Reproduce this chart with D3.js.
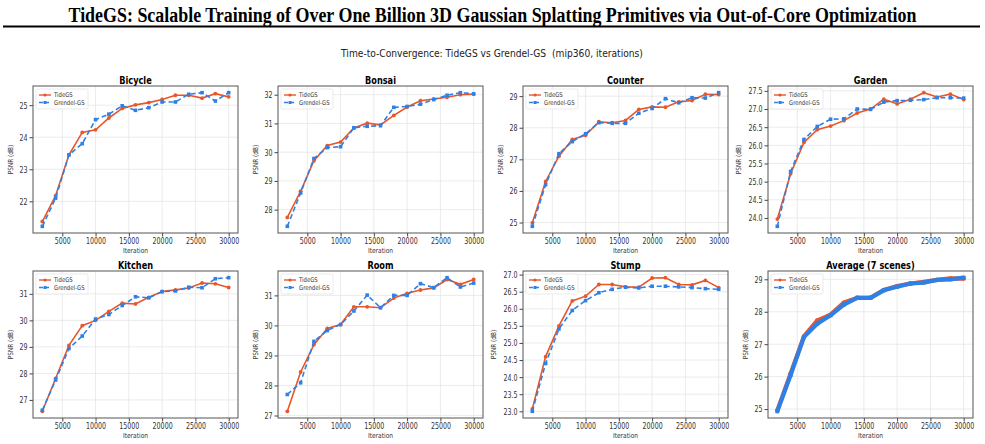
<!DOCTYPE html>
<html lang="en">
<head>
<meta charset="utf-8">
<title>TideGS time-to-convergence</title>
<style>
  body { margin: 0; background: #fff; }
  text { font-family: "DejaVu Sans", sans-serif; white-space: pre; }
  .grid line { stroke: #e6e6e6; stroke-width: 0.8; }
</style>
</head>
<body>
<script src="https://d3js.org/d3.v7.min.js"></script>
<script>
// iterations (shared x values)
var iters = [2000, 4000, 6000, 8000, 10000, 12000, 14000, 16000, 18000, 20000, 22000, 24000, 26000, 28000, 30000];

var scenes = ["Bicycle", "Bonsai", "Counter", "Garden", "Kitchen", "Room", "Stump", "Average (7 scenes)"];

// PSNR values
var tideBicycle   = [21.37, 22.18, 23.45, 24.15, 24.23, 24.60, 24.90, 25.01, 25.08, 25.18, 25.31, 25.31, 25.22, 25.36, 25.26];
var grendBicycle  = [21.22, 22.10, 23.45, 23.80, 24.55, 24.72, 24.98, 24.84, 24.92, 25.10, 25.10, 25.34, 25.39, 25.13, 25.39];
var tideBonsai    = [27.73, 28.64, 29.70, 30.23, 30.35, 30.84, 31.01, 30.95, 31.28, 31.57, 31.79, 31.85, 31.91, 32.00, 32.02];
var grendBonsai   = [27.42, 28.58, 29.78, 30.16, 30.19, 30.85, 30.90, 30.92, 31.56, 31.59, 31.67, 31.83, 31.98, 32.07, 32.03];
var tideCounter   = [24.99, 26.30, 27.10, 27.63, 27.76, 28.19, 28.16, 28.23, 28.58, 28.66, 28.65, 28.82, 28.86, 29.06, 29.05];
var grendCounter  = [24.88, 26.20, 27.18, 27.56, 27.81, 28.16, 28.14, 28.14, 28.46, 28.61, 28.92, 28.79, 28.95, 28.94, 29.11];
var tideGarden    = [23.97, 25.22, 26.08, 26.43, 26.53, 26.68, 26.89, 27.00, 27.27, 27.14, 27.27, 27.45, 27.33, 27.41, 27.26];
var grendGarden   = [23.77, 25.28, 26.16, 26.52, 26.72, 26.73, 27.00, 26.99, 27.19, 27.23, 27.24, 27.26, 27.31, 27.31, 27.30];
var tideKitchen   = [26.57, 27.81, 29.06, 29.80, 30.00, 30.34, 30.65, 30.62, 30.87, 31.09, 31.15, 31.22, 31.41, 31.38, 31.24];
var grendKitchen  = [26.61, 27.75, 28.94, 29.41, 30.05, 30.22, 30.56, 30.89, 30.85, 31.08, 31.11, 31.25, 31.23, 31.57, 31.61];
var tideRoom      = [27.14, 28.45, 29.36, 29.90, 30.03, 30.62, 30.62, 30.59, 30.91, 31.07, 31.18, 31.25, 31.53, 31.37, 31.53];
var grendRoom     = [27.70, 28.09, 29.47, 29.83, 30.03, 30.48, 31.01, 30.59, 31.00, 31.00, 31.39, 31.26, 31.59, 31.28, 31.41];
var tideStump     = [23.07, 24.60, 25.50, 26.23, 26.37, 26.71, 26.71, 26.64, 26.63, 26.90, 26.91, 26.71, 26.70, 26.83, 26.62];
var grendStump    = [23.00, 24.40, 25.41, 25.95, 26.24, 26.47, 26.57, 26.63, 26.61, 26.66, 26.66, 26.64, 26.62, 26.59, 26.57];
var tideAverage   = [24.96, 26.10, 27.24, 27.73, 27.91, 28.28, 28.43, 28.43, 28.67, 28.79, 28.87, 28.92, 28.98, 29.03, 29.02];
var grendAverage  = [24.93, 26.05, 27.22, 27.63, 27.89, 28.22, 28.43, 28.43, 28.66, 28.77, 28.87, 28.90, 28.98, 29.00, 29.05];

var tideSeries  = [tideBicycle, tideBonsai, tideCounter, tideGarden, tideKitchen, tideRoom, tideStump, tideAverage];
var grendSeries = [grendBicycle, grendBonsai, grendCounter, grendGarden, grendKitchen, grendRoom, grendStump, grendAverage];

// tick labels
var xTicks = [5000, 10000, 15000, 20000, 25000, 30000];
var yTicks = [
  [22, 23, 24, 25],
  [28, 29, 30, 31, 32],
  [25, 26, 27, 28, 29],
  [24.0, 24.5, 25.0, 25.5, 26.0, 26.5, 27.0, 27.5],
  [27, 28, 29, 30, 31],
  [27, 28, 29, 30, 31],
  [23.0, 23.5, 24.0, 24.5, 25.0, 25.5, 26.0, 26.5, 27.0],
  [25, 26, 27, 28, 29]
];
var yFormats = ["d", "d", "d", ".1f", "d", "d", ".1f", "d"];

var orange = "#e8562a", blue = "#2f80e6";

var W = 985, H = 444;
var svg = d3.select("body").append("svg").attr("width", W).attr("height", H);

// squeeze text horizontally (the source figure is narrow-looking)
function condense(sel, f) {
  sel.each(function() {
    var L = this.getComputedTextLength();
    d3.select(this).attr("textLength", L * f).attr("lengthAdjust", "spacingAndGlyphs");
  });
}

// page title + rule (tall, narrow serif: smaller font stretched vertically)
svg.append("text")
  .attr("transform", "translate(" + (W / 2) + ",22) scale(1,1.18)")
  .attr("text-anchor", "middle")
  .style("font-family", "'Liberation Serif', 'DejaVu Serif', serif")
  .style("font-weight", "bold")
  .style("font-size", "17px")
  .attr("textLength", 848)
  .attr("lengthAdjust", "spacingAndGlyphs")
  .text("TideGS: Scalable Training of Over One Billion 3D Gaussian Splatting Primitives via Out-of-Core Optimization");

svg.append("line")
  .attr("x1", 3).attr("x2", 980).attr("y1", 26.5).attr("y2", 26.5)
  .attr("stroke", "#000").attr("stroke-width", 2);

var sub = svg.append("text")
  .attr("x", 492).attr("y", 57)
  .attr("text-anchor", "middle")
  .style("font-size", "10.5px")
  .attr("fill", "#222")
  .text("Time-to-Convergence: TideGS vs Grendel-GS  (mip360, iterations)");
condense(sub, 0.87);

var lefts = [33, 278, 523, 768], tops = [86, 271];
var pw = 205, ph = 147;

var x = d3.scaleLinear().domain([600, 31400]).range([0, pw]);

scenes.forEach(function(name, i) {
  var t = tideSeries[i], g = grendSeries[i];
  var isAvg = i === 7;
  var lo = d3.min(t.concat(g)), hi = d3.max(t.concat(g));
  var pad = (hi - lo) * 0.05;
  var y = d3.scaleLinear().domain([lo - pad, hi + pad]).range([ph, 0]);

  var p = svg.append("g")
    .attr("transform", "translate(" + lefts[i % 4] + "," + tops[Math.floor(i / 4)] + ")");

  // grid
  var grid = p.append("g").attr("class", "grid");
  grid.selectAll(".gx").data(xTicks).enter().append("line")
    .attr("x1", d => x(d)).attr("x2", d => x(d)).attr("y1", 0).attr("y2", ph);
  grid.selectAll(".gy").data(yTicks[i]).enter().append("line")
    .attr("y1", d => y(d)).attr("y2", d => y(d)).attr("x1", 0).attr("x2", pw);

  // axes
  var xa = p.append("g").attr("transform", "translate(0," + ph + ")")
    .call(d3.axisBottom(x).tickValues(xTicks).tickFormat(d3.format("d")).tickSize(3.5).tickPadding(1.5));
  var ya = p.append("g")
    .call(d3.axisLeft(y).tickValues(yTicks[i]).tickFormat(d3.format(yFormats[i])).tickSize(3.5).tickPadding(2));
  [xa, ya].forEach(function(a) {
    a.select(".domain").remove();
    a.selectAll("line").attr("stroke", "#444");
    a.selectAll("text").style("font-size", "9px").attr("fill", "#333")
      .style("font-family", "'DejaVu Sans', sans-serif");
    condense(a.selectAll("text"), 0.7);
  });

  // lines
  var line = d3.line().x((d, k) => x(iters[k])).y(d => y(d));
  var lw = isAvg ? 4.2 : 1.6;
  p.append("path").datum(t).attr("d", line)
    .style("fill", "none").style("stroke", orange).style("stroke-width", lw);
  p.selectAll(".mt").data(t).enter().append("circle")
    .attr("cx", (d, k) => x(iters[k])).attr("cy", d => y(d))
    .attr("r", isAvg ? 2.2 : 1.9).attr("fill", orange);

  p.append("path").datum(g).attr("d", line)
    .style("fill", "none").style("stroke", blue).style("stroke-width", lw)
    .style("stroke-dasharray", isAvg ? "none" : "5,3");
  var ms = isAvg ? 4 : 3.6;
  p.selectAll(".mg").data(g).enter().append("rect")
    .attr("x", (d, k) => x(iters[k]) - ms / 2).attr("y", d => y(d) - ms / 2)
    .attr("width", ms).attr("height", ms).attr("fill", blue);

  // frame
  p.append("rect").attr("width", pw).attr("height", ph)
    .attr("fill", "none").attr("stroke", "#555").attr("stroke-width", 1);

  // titles and labels
  var ttl = p.append("text").attr("x", pw / 2).attr("y", -2.5)
    .attr("text-anchor", "middle").style("font-size", "10px").style("font-weight", "bold")
    .text(name);
  condense(ttl, 0.82);
  var xl = p.append("text").attr("x", pw / 2).attr("y", ph + 19.5)
    .attr("text-anchor", "middle").style("font-size", "7px").attr("fill", "#333")
    .text("Iteration");
  condense(xl, 0.85);
  var yl = (i === 3 || i === 6) ? -27 : -20;
  var ylab = p.append("text").attr("transform", "translate(" + yl + "," + (ph / 2) + ") rotate(-90)")
    .attr("text-anchor", "middle").style("font-size", "7px").attr("fill", "#333")
    .text("PSNR (dB)");
  condense(ylab, 0.82);

  // legend
  var lg = p.append("g").attr("transform", "translate(3,3)");
  lg.append("rect").attr("width", 52).attr("height", 20).attr("rx", 1.5)
    .attr("fill", "#fff").attr("fill-opacity", 0.85).attr("stroke", "#ddd").attr("stroke-width", 0.6);
  lg.append("line").attr("x1", 3).attr("x2", 15).attr("y1", 6).attr("y2", 6)
    .attr("stroke", orange).attr("stroke-width", 1.4);
  lg.append("circle").attr("cx", 9).attr("cy", 6).attr("r", 1.6).attr("fill", orange);
  lg.append("line").attr("x1", 3).attr("x2", 15).attr("y1", 13.5).attr("y2", 13.5)
    .attr("stroke", blue).attr("stroke-width", 1.4).attr("stroke-dasharray", "4,2");
  lg.append("rect").attr("x", 7.5).attr("y", 12).attr("width", 3).attr("height", 3).attr("fill", blue);
  var l1 = lg.append("text").attr("x", 18).attr("y", 8.4).style("font-size", "6.5px").attr("fill", "#333").text("TideGS");
  var l2 = lg.append("text").attr("x", 18).attr("y", 15.9).style("font-size", "6.5px").attr("fill", "#333").text("Grendel-GS");
  condense(l1, 0.82);
  condense(l2, 0.82);
});
</script>
</body>
</html>
